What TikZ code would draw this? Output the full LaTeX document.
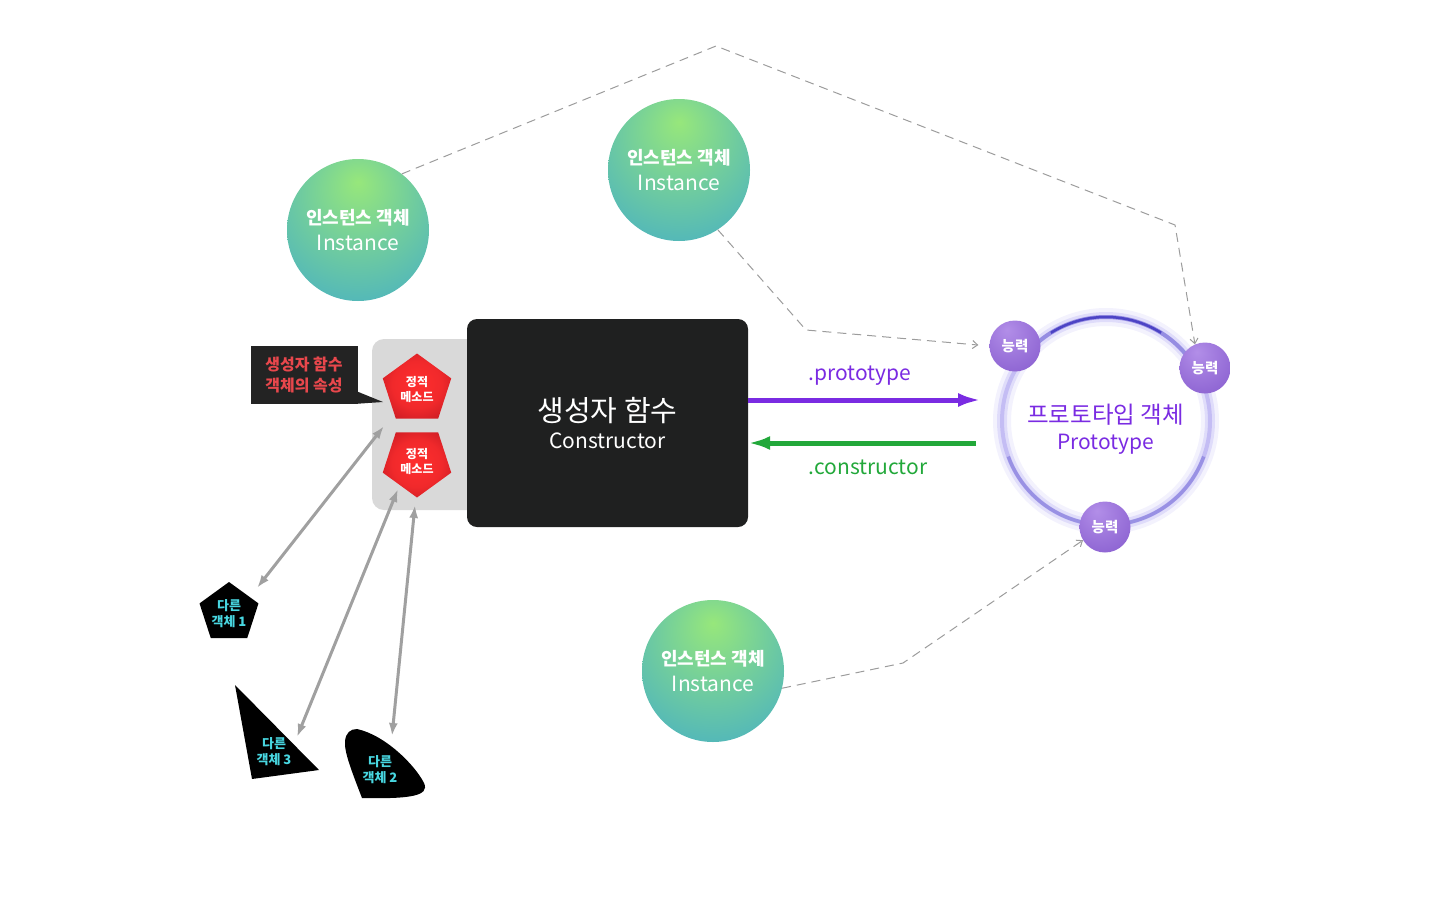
\documentclass[tikz,border=0pt]{standalone}
\usepackage{fontspec}
\setmainfont{Noto Sans CJK KR}
\usetikzlibrary{shapes.geometric,arrows.meta,calc}

\definecolor{instLight}{HTML}{97E77B}
\definecolor{instDark}{HTML}{3FAACB}
\definecolor{boxBlack}{HTML}{1F2020}
\definecolor{panelGray}{HTML}{D9D9D9}
\definecolor{redLight}{HTML}{FF2E2E}
\definecolor{redDark}{HTML}{A00D1C}
\definecolor{calloutRed}{HTML}{E8474C}
\definecolor{calloutBlack}{HTML}{232323}
\definecolor{objCyan}{HTML}{48D6E0}
\definecolor{protoPurple}{HTML}{7A2BE2}
\definecolor{ctorGreen}{HTML}{22A83A}
\definecolor{abilLight}{HTML}{B28EE8}
\definecolor{abilDark}{HTML}{7447C3}
\definecolor{ringSoft}{HTML}{CFCAF7}
\definecolor{ringMid}{HTML}{B3AAF0}
\definecolor{ringDark}{HTML}{3A31BE}
\definecolor{dashGray}{HTML}{9C9C9C}
\definecolor{arrowGray}{HTML}{A0A0A0}

\pgfdeclareradialshading{instshade}{\pgfpoint{0bp}{17bp}}{color(0bp)=(instLight); color(20bp)=(instLight!55!instDark); color(46bp)=(instDark); color(80bp)=(instDark)}
\pgfdeclareradialshading{redshade}{\pgfpoint{0bp}{2bp}}{color(0bp)=(redLight); color(18bp)=(redLight!85!redDark); color(46bp)=(redDark)}
\pgfdeclareradialshading{abilshade}{\pgfpoint{-8bp}{16bp}}{color(0bp)=(abilLight); color(62bp)=(abilDark); color(80bp)=(abilDark)}

\def \instSize {142pt}
\def \abilSize {51pt}
\def \ringRadius {104}

\tikzset{
  instance/.style={circle, minimum size=\instSize, inner sep=0pt, shading=instshade, text=white, align=center},
  method/.style={regular polygon, regular polygon sides=5, minimum size=72pt, inner sep=0pt, shading=redshade, text=white, align=center, font=\bfseries\fontsize{12}{15}\selectfont},
  ability/.style={circle, minimum size=\abilSize, inner sep=0pt, shading=abilshade, text=white, font=\bfseries\fontsize{14.5}{16}\selectfont},
  objlabel/.style={text=objCyan, align=center, inner sep=0pt, font=\bfseries\fontsize{13}{16}\selectfont},
  grayarrow/.style={draw=arrowGray, line width=3pt, {Latex[length=13pt,width=9pt]}-{Latex[length=13pt,width=9pt]}},
  dashlink/.style={draw=dashGray, line width=1pt, dash pattern=on 9pt off 6pt, -{Straight Barb[length=5pt,width=8pt]}},
}

\begin{document}
\begin{tikzpicture}[x=1pt, y=-1pt]
  \useasboundingbox (0,0) rectangle (1440,900);

  % 인스턴스 객체
  \node[instance] (inst1) at (358,230) {{\bfseries\fontsize{18}{22}\selectfont 인스턴스 객체}\\[8pt]{\fontsize{21}{24}\selectfont Instance}};
  \node[instance] (inst2) at (679,170) {{\bfseries\fontsize{18}{22}\selectfont 인스턴스 객체}\\[8pt]{\fontsize{21}{24}\selectfont Instance}};
  \node[instance] (inst3) at (713,671) {{\bfseries\fontsize{18}{22}\selectfont 인스턴스 객체}\\[8pt]{\fontsize{21}{24}\selectfont Instance}};

  % 생성자 함수와 정적 메소드
  \node[fill=panelGray, rounded corners=12pt, minimum width=110pt, minimum height=171pt] (panel) at (427,424.5) {};
  \node[fill=boxBlack, rounded corners=10pt, minimum width=281pt, minimum height=208pt, text=white, align=center] (ctor) at (607.5,423)
    {{\fontsize{29}{32}\selectfont 생성자 함수}\\[8pt]{\fontsize{21}{24}\selectfont Constructor}};
  \node[method] (method1) at (417,389.5) {정적\\메소드};
  \node[method, shape border rotate=180] (method2) at (417,461.5) {정적\\메소드};

  % 말풍선
  \node[fill=calloutBlack, minimum width=107pt, minimum height=58pt, text=calloutRed, align=center,
        font=\bfseries\fontsize{16}{21}\selectfont] (callout) at (304,374.5) {생성자 함수\\객체의 속성};
  \coordinate (calloutTip) at (383,402);
  \fill[calloutBlack] ([yshift=12pt]callout.south east) -- (calloutTip) -- (callout.south east) -- cycle;

  % 다른 객체
  \node[regular polygon, regular polygon sides=5, minimum size=62pt, inner sep=0pt, fill=black] (shape1) at (229,613) {};
  \node[objlabel] (obj1) at (229,613.5) {다른\\객체 1};
  \fill[black] (235,685) -- (319,770) -- (252,779) -- cycle;
  \node[objlabel] (obj3) at (274,751.5) {다른\\객체 3};
  \fill[black] (357,729) .. controls (385,735) and (415,765) .. (424,783)
    .. controls (430,796) and (410,799) .. (362,798)
    .. controls (352,772) and (344,752) .. (345,741)
    .. controls (346,733) and (350,729) .. (357,729);
  \node[objlabel] (obj2) at (380,770) {다른\\객체 2};

  \coordinate (m1tip) at (384,426);
  \coordinate (o1tip) at (257,588);
  \coordinate (m2tip) at (398,489);
  \coordinate (o3tip) at (297,737);
  \coordinate (m3tip) at (415,505);
  \coordinate (o2tip) at (392,736);
  \draw[grayarrow] (m1tip) -- (o1tip);
  \draw[grayarrow] (m2tip) -- (o3tip);
  \draw[grayarrow] (m3tip) -- (o2tip);

  % 프로토타입 객체
  \coordinate (protoCenter) at (1106,421);
  \draw[ringSoft, line width=18pt, opacity=0.25] (protoCenter) circle[radius=\ringRadius];
  \draw[ringSoft, line width=10pt, opacity=0.55] (protoCenter) circle[radius=\ringRadius];
  \draw[ringMid, line width=4pt, opacity=0.6] (protoCenter) circle[radius=\ringRadius];
  \draw[ringDark!50!ringMid, line width=4pt, opacity=0.6] ($(protoCenter)+(-150:\ringRadius)$) arc[start angle=-150, end angle=-30, radius=\ringRadius];
  \draw[ringDark, line width=2.5pt, opacity=0.8] ($(protoCenter)+(-122:\ringRadius)$) arc[start angle=-122, end angle=-58, radius=\ringRadius];
  \draw[ringDark!45!ringMid, line width=3.5pt, opacity=0.6] ($(protoCenter)+(20:\ringRadius)$) arc[start angle=20, end angle=160, radius=\ringRadius];
  \node[text=protoPurple, align=center] (proto) at (1105.5,429)
    {{\fontsize{23.5}{28}\selectfont 프로토타입 객체}\\[8pt]{\fontsize{21}{24}\selectfont Prototype}};

  \node[ability] (ab1) at (1015,346) {능력};
  \node[ability] (ab2) at (1205,368) {능력};
  \node[ability] (ab3) at (1105,527) {능력};

  % prototype / constructor
  \coordinate (protoIn) at (981,400);
  \coordinate (ctorOut) at (976,443);
  \draw[protoPurple, line width=5pt, -{Latex[length=23pt,width=14pt]}] (ctor.east |- protoIn) -- (protoIn);
  \draw[ctorGreen, line width=5pt, -{Latex[length=22pt,width=14pt]}] (ctorOut) -- (ctor.east |- ctorOut);
  \node[text=protoPurple, font=\fontsize{21}{24}\selectfont] (protoLabel) at (860,376) {.prototype};
  \node[text=ctorGreen, font=\fontsize{21}{24}\selectfont] (ctorLabel) at (868,467) {.constructor};

  % 점선 연결
  \coordinate (bendA) at (716,46);
  \coordinate (bendB) at (1175,225);
  \coordinate (bendC) at (806,330);
  \coordinate (bendD) at (903,663);
  \draw[dashlink] (inst1.52) -- (bendA) -- (bendB) -- (ab2.113);
  \draw[dashlink, shorten >=11pt] (inst2.-57) -- (bendC) -- (ab1.west);
  \draw[dashlink] (inst3.-14) -- (bendD) -- (ab3.-149);
\end{tikzpicture}
\end{document}
